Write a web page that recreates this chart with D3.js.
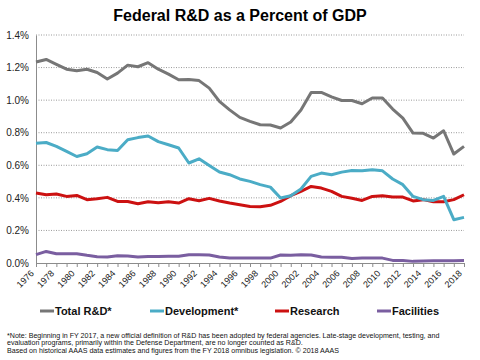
<!DOCTYPE html>
<html><head><meta charset="utf-8">
<script src="https://cdn.jsdelivr.net/npm/d3@7"></script>
<style>body{margin:0;background:#fff;}svg{display:block;font-family:"Liberation Sans",Arial,sans-serif;}</style>
</head><body>
<script>
const years = d3.range(1976, 2019);
const totalRD = [1.234,1.25,1.22,1.19,1.18,1.19,1.17,1.13,1.166,1.215,1.205,1.23,1.19,1.16,1.125,1.127,1.12,1.074,0.992,0.94,0.894,0.87,0.849,0.847,0.829,0.866,0.94,1.047,1.047,1.02,0.998,0.998,0.978,1.013,1.013,0.945,0.89,0.798,0.796,0.767,0.812,0.669,0.716];
const development = [0.735,0.74,0.716,0.685,0.654,0.671,0.712,0.696,0.691,0.757,0.77,0.78,0.745,0.726,0.706,0.614,0.64,0.599,0.559,0.542,0.516,0.501,0.481,0.466,0.399,0.413,0.454,0.532,0.552,0.542,0.558,0.568,0.566,0.573,0.566,0.516,0.481,0.409,0.389,0.384,0.409,0.266,0.28];
const research = [0.43,0.419,0.424,0.409,0.415,0.389,0.395,0.403,0.378,0.378,0.364,0.376,0.37,0.376,0.368,0.395,0.382,0.397,0.381,0.368,0.358,0.347,0.346,0.354,0.378,0.413,0.44,0.47,0.46,0.44,0.409,0.397,0.384,0.409,0.413,0.405,0.405,0.381,0.389,0.376,0.376,0.389,0.419];
const facilities = [0.051,0.071,0.057,0.057,0.057,0.047,0.039,0.037,0.045,0.043,0.037,0.04,0.04,0.041,0.041,0.051,0.051,0.049,0.037,0.031,0.031,0.03,0.03,0.03,0.049,0.047,0.051,0.049,0.037,0.035,0.035,0.028,0.03,0.03,0.03,0.016,0.016,0.01,0.012,0.014,0.014,0.014,0.015];
const yTicks = [0,0.2,0.4,0.6,0.8,1.0,1.2,1.4];
const seriesNames = ["Total R&D*","Development*","Research","Facilities"];
const seriesColors = ["#767676","#4bacc6","#cc1111","#7a5ea0"];
const seriesData = [totalRD, development, research, facilities];
const titleText = "Federal R&D as a Percent of GDP";
const notes = [
  "*Note: Beginning  in FY 2017, a new official  definition  of R&D has been adopted by federal agencies. Late-stage development, testing, and",
  "evaluation  programs,  primarily  within  the Defense Department, are no longer  counted as R&D.",
  "Based on historical  AAAS data estimates and figures  from the FY 2018 omnibus legislation.  \u00A9 2018 AAAS"
];

const W = 480, H = 360;
const svg = d3.select("body").append("svg").attr("width", W).attr("height", H);
const x = d3.scaleLinear().domain([1976, 2018]).range([36, 464]);
const y = d3.scaleLinear().domain([0, 1.4]).range([263, 35]);

svg.append("text").attr("x", 240).attr("y", 21).attr("text-anchor", "middle")
  .attr("font-size", 16).attr("font-weight", "bold").attr("fill", "#000").text(titleText);

// gridlines
svg.append("g").selectAll("line").data(yTicks.filter(d => d > 0)).join("line")
  .attr("x1", 36).attr("x2", 464).attr("y1", d => y(d)).attr("y2", d => y(d))
  .attr("stroke", "#9a9a9a").attr("stroke-width", 1).attr("stroke-dasharray", "1,1.5");

// y axis
const yAxis = svg.append("g").attr("transform", "translate(36,0)")
  .call(d3.axisLeft(y).tickValues(yTicks).tickFormat(d => d3.format(".1f")(d) + "%").tickSize(0).tickPadding(7));
yAxis.select(".domain").attr("stroke", "#8c8c8c");
yAxis.selectAll("text").attr("font-size", 10).attr("fill", "#222").attr("font-family", "Liberation Sans, Arial, sans-serif");

// x axis
const xAxis = svg.append("g").attr("transform", "translate(0,263)")
  .call(d3.axisBottom(x).tickValues(years).tickSize(4).tickSizeOuter(0).tickFormat(d => d % 2 === 0 ? String(d) : ""));
xAxis.select(".domain").attr("stroke", "#8c8c8c");
xAxis.selectAll(".tick line").attr("stroke", "#8c8c8c");
xAxis.selectAll("text").attr("font-size", 9).attr("fill", "#222")
  .attr("font-family", "Liberation Sans, Arial, sans-serif")
  .attr("text-anchor", "end").attr("dy", null).attr("y", 0)
  .attr("transform", "translate(-2,11) rotate(-45)");

// lines
const line = d3.line().x((d, i) => x(years[i])).y(d => y(d));
const order = [3, 2, 1, 0];
svg.append("g").selectAll("path").data(order).join("path")
  .attr("d", k => line(seriesData[k])).attr("fill", "none")
  .attr("stroke", k => seriesColors[k]).attr("stroke-width", 3).attr("stroke-linejoin", "round");

// legend
const legX = [40, 150, 275, 377];
const leg = svg.append("g").selectAll("g").data(seriesNames).join("g")
  .attr("transform", (d, i) => `translate(${legX[i]},311)`);
leg.append("line").attr("x1", 0).attr("x2", 14).attr("y1", 0).attr("y2", 0)
  .attr("stroke", (d, i) => seriesColors[i]).attr("stroke-width", 3);
leg.append("text").attr("x", 15).attr("y", 4).attr("font-size", 11).attr("font-weight", "bold")
  .attr("fill", "#111").text(d => d);

// notes
svg.append("g").selectAll("text").data(notes).join("text")
  .attr("x", 7).attr("y", (d, i) => 337.5 + i * 7.5).attr("font-size", 7.1).attr("fill", "#111").text(d => d);
</script>
</body></html>
